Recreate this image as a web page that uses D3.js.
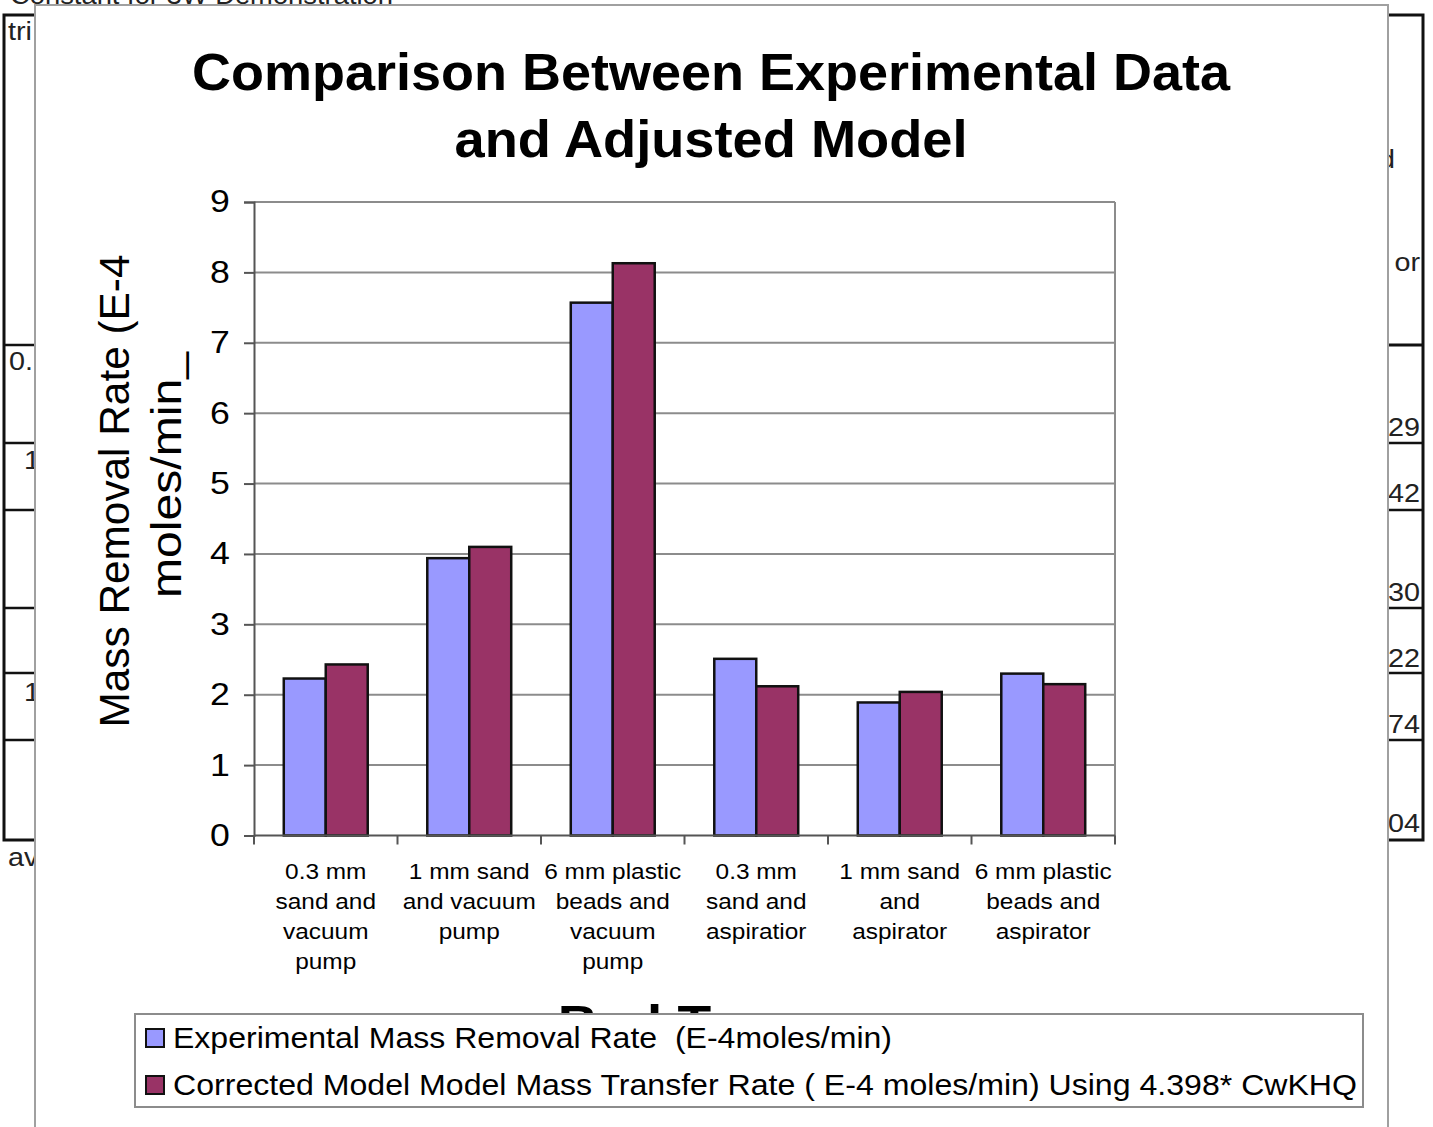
<!DOCTYPE html>
<html>
<head>
<meta charset="utf-8">
<script src="https://cdn.jsdelivr.net/npm/d3@7/dist/d3.min.js"></script>
<style>
  html, body { margin: 0; padding: 0; background: #fff; }
  svg { display: block; font-family: "Liberation Sans", Arial, sans-serif; }
</style>
</head>
<body>
<svg id="chart" width="1433" height="1127"></svg>
<script>
// Bed configurations (category labels, split into lines)
const categories = [
  ["0.3 mm", "sand and", "vacuum", "pump"],
  ["1 mm sand", "and vacuum", "pump"],
  ["6 mm plastic", "beads and", "vacuum", "pump"],
  ["0.3 mm", "sand and", "aspiratior"],
  ["1 mm sand", "and", "aspirator"],
  ["6 mm plastic", "beads and", "aspirator"]
];
// Mass removal rates, E-4 moles/min
const experimental = [2.23, 3.94, 7.57, 2.51, 1.89, 2.30];
const corrected    = [2.43, 4.10, 8.13, 2.12, 2.04, 2.15];
const seriesNames = [
  "Experimental Mass Removal Rate  (E-4moles/min)",
  "Corrected Model Model Mass Transfer Rate ( E-4 moles/min) Using 4.398* CwKHQ"
];
const yTicks = [0, 1, 2, 3, 4, 5, 6, 7, 8, 9];

// Spreadsheet cell text showing around the chart object
const leftCells = ["tri", "0.", "1", "1"];
const rightCells = ["or", "29", "42", "30", "22", "74", "04"];

const svg = d3.select("#chart");
const W = 1433, H = 1127;
const SX = 1.15; // horizontal stretch of the worksheet rendering

// ---- worksheet behind the chart ----
const sheet = svg.append("g").attr("font-size", 25).attr("fill", "#222");
sheet.append("text").attr("x", 10).attr("y", 4).attr("textLength", 383)
  .attr("lengthAdjust", "spacingAndGlyphs").text("Constant for 3W Demonstration");

const rowLines = [345, 443, 510, 608, 673, 740];
// left block
sheet.append("rect").attr("x", 4).attr("y", 15).attr("width", 40).attr("height", 825)
  .attr("fill", "none").attr("stroke", "#111").attr("stroke-width", 3);
rowLines.forEach(y => sheet.append("line").attr("x1", 4).attr("x2", 40).attr("y1", y).attr("y2", y)
  .attr("stroke", "#111").attr("stroke-width", 2.5));
const leftPos = [[8, 40], [9, 370], [24, 469], [24, 701]];
leftCells.forEach((t, i) => sheet.append("text")
  .attr("transform", `translate(${leftPos[i][0]},${leftPos[i][1]}) scale(${SX},1)`).text(t));
sheet.append("text").attr("transform", `translate(8,866) scale(${SX},1)`).text("av");

// right block
sheet.append("rect").attr("x", 1380).attr("y", 15).attr("width", 43).attr("height", 825)
  .attr("fill", "none").attr("stroke", "#111").attr("stroke-width", 3);
rowLines.forEach((y, i) => sheet.append("line").attr("x1", 1380).attr("x2", 1423).attr("y1", y).attr("y2", y)
  .attr("stroke", "#111").attr("stroke-width", i === 0 ? 3 : 2.5));
sheet.append("text").attr("transform", `translate(1379,168) scale(${SX},1)`).text("d");
const rightY = [271, 436, 502, 601, 667, 733, 832];
rightCells.forEach((t, i) => sheet.append("text")
  .attr("transform", `translate(1420,${rightY[i]}) scale(${SX},1)`)
  .attr("text-anchor", "end").text(t));

// ---- chart object ----
svg.append("rect").attr("x", 35).attr("y", 5).attr("width", 1353).attr("height", H)
  .attr("fill", "#fff").attr("stroke", "#a0a0a0").attr("stroke-width", 2);

const plot = { left: 254, right: 1115, top: 202, bottom: 835.5 };

const x = d3.scaleBand().domain(d3.range(categories.length))
  .range([plot.left, plot.right]).paddingInner(0.415).paddingOuter(0.2075);
const xs = d3.scaleBand().domain([0, 1]).range([0, x.bandwidth()]);
const y = d3.scaleLinear().domain([0, 9]).range([plot.bottom, plot.top]);

// title
const title = svg.append("text").attr("text-anchor", "middle").attr("font-weight", "bold")
  .attr("font-size", 52).attr("fill", "#000");
title.append("tspan").attr("x", 711).attr("y", 90).attr("textLength", 1038)
  .attr("lengthAdjust", "spacingAndGlyphs").text("Comparison Between Experimental Data");
title.append("tspan").attr("x", 711).attr("y", 157).attr("textLength", 513)
  .attr("lengthAdjust", "spacingAndGlyphs").text("and Adjusted Model");

// horizontal gridlines
svg.append("g").selectAll("line").data(yTicks.filter(d => d > 0)).join("line")
  .attr("x1", plot.left).attr("x2", plot.right)
  .attr("y1", d => y(d)).attr("y2", d => y(d))
  .attr("stroke", "#8c8c8c").attr("stroke-width", 2);
// right border of plot area
svg.append("line").attr("x1", plot.right).attr("x2", plot.right)
  .attr("y1", plot.top).attr("y2", plot.bottom + 8)
  .attr("stroke", "#8c8c8c").attr("stroke-width", 2);

// y axis
const yAxis = svg.append("g").attr("transform", `translate(${plot.left},0)`)
  .call(d3.axisLeft(y).tickValues(yTicks).tickSize(10).tickPadding(11).tickFormat(d3.format("d")));
yAxis.select(".domain").attr("stroke", "#555").attr("stroke-width", 2);
yAxis.selectAll(".tick line").attr("stroke", "#555").attr("stroke-width", 2);
yAxis.selectAll(".tick text").attr("font-size", 31).attr("fill", "#000")
  .attr("font-family", "Liberation Sans, Arial, sans-serif")
  .attr("transform", `scale(${SX},1)`);

// bars
const series = [experimental, corrected];
const colors = ["#9999ff", "#993366"];
series.forEach((vals, s) => {
  svg.append("g").selectAll("rect").data(vals).join("rect")
    .attr("x", (d, i) => x(i) + xs(s))
    .attr("y", d => y(d))
    .attr("width", xs.bandwidth())
    .attr("height", d => y(0) - y(d))
    .attr("fill", colors[s]).attr("stroke", "#111").attr("stroke-width", 2.5);
});

// x axis line and ticks at category boundaries
svg.append("line").attr("x1", plot.left).attr("x2", plot.right)
  .attr("y1", plot.bottom).attr("y2", plot.bottom)
  .attr("stroke", "#555").attr("stroke-width", 2);
const step = x.step();
svg.append("g").selectAll("line").data(d3.range(categories.length + 1)).join("line")
  .attr("x1", i => plot.left + i * step).attr("x2", i => plot.left + i * step)
  .attr("y1", plot.bottom).attr("y2", plot.bottom + 9)
  .attr("stroke", "#555").attr("stroke-width", 2);

// category labels
categories.forEach((lines, i) => {
  const g = svg.append("g")
    .attr("transform", `translate(${x(i) + x.bandwidth() / 2},0) scale(1.11,1)`);
  const t = g.append("text").attr("font-size", 22).attr("fill", "#000").attr("text-anchor", "middle");
  lines.forEach((ln, j) => t.append("tspan").attr("x", 0).attr("y", 879 + j * 30).text(ln));
});

// axis titles
svg.append("text").attr("text-anchor", "middle").attr("font-size", 42).attr("fill", "#000")
  .attr("transform", "translate(129,491) rotate(-90)")
  .attr("textLength", 473).attr("lengthAdjust", "spacingAndGlyphs").text("Mass Removal Rate (E-4");
svg.append("text").attr("text-anchor", "middle").attr("font-size", 42).attr("fill", "#000")
  .attr("transform", "translate(181,475) rotate(-90)")
  .attr("textLength", 246).attr("lengthAdjust", "spacingAndGlyphs").text("moles/min_");
// category axis title, mostly covered by the legend box
svg.append("text").attr("text-anchor", "middle").attr("font-size", 48).attr("font-weight", "bold")
  .attr("fill", "#000").attr("transform", `translate(680,1039) scale(${SX},1)`).text("Bed Type");

// legend
const lg = svg.append("g");
lg.append("rect").attr("x", 135).attr("y", 1014).attr("width", 1228).attr("height", 93)
  .attr("fill", "#fff").attr("stroke", "#8c8c8c").attr("stroke-width", 2);
const legendLen = [719, 1184];
seriesNames.forEach((name, i) => {
  const cy = 1038 + i * 47;
  lg.append("rect").attr("x", 146).attr("y", cy - 9).attr("width", 18).attr("height", 18)
    .attr("fill", colors[i]).attr("stroke", "#111").attr("stroke-width", 2);
  lg.append("text").attr("x", 173).attr("y", cy + 10).attr("font-size", 29).attr("fill", "#000")
    .attr("textLength", legendLen[i]).attr("lengthAdjust", "spacingAndGlyphs")
    .style("white-space", "pre").text(name);
});
</script>
</body>
</html>
